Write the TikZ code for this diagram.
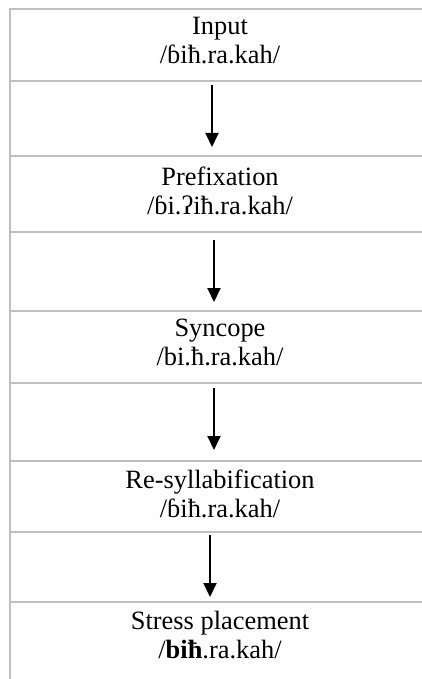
\documentclass[tikz,border=0pt]{standalone}
\usepackage{fontspec}
\setmainfont{Liberation Serif}
\usetikzlibrary{arrows.meta}
\tikzset{rule/.style={draw=gray!50, line width=0.75pt},
 stage/.style={align=center, inner sep=0pt, font=\fontsize{13.2}{14.5}\selectfont},
 flow/.style={line width=1pt, -{Triangle[length=7pt,width=6.5pt]}},
 }

\begin{document}
\begin{tikzpicture}[x=0.5pt,y=-0.5pt]
        \useasboundingbox (0,0) rectangle (422,679);
        % table rules
        \draw[rule] (10,679) -- (10,9) -- (422,9);
        \foreach \y in {81,156,232,311,383,461,532,602}
            \draw[rule] (10,\y) -- (422,\y);
        % stages
        \node[stage] (input)   at (220,40.5) {Input\\/ɓiħ.ra.kah/};
        \node[stage] (prefix)  at (220,190.5) {Prefixation\\/ɓi.ʔiħ.ra.kah/};
        \node[stage] (syncope) at (220,342.5) {Syncope\\/bi.ħ.ra.kah/};
        \node[stage] (resyll)  at (220,493.5) {Re-syllabification\\/ɓiħ.ra.kah/};
        \node[stage] (stress)  at (220,635) {Stress placement\\/\textbf{biħ}.ra.kah/};
        % arrows between the stages
        \foreach \x/\ya/\yb [count=\i] in {212/85/147, 214/240/302, 214/388/450, 210/535/597} {
            \coordinate (s\i) at (\x,\ya);
            \coordinate (e\i) at (\x,\yb);
            \draw[flow] (s\i) -- (e\i);
        }
    \end{tikzpicture}
\end{document}
